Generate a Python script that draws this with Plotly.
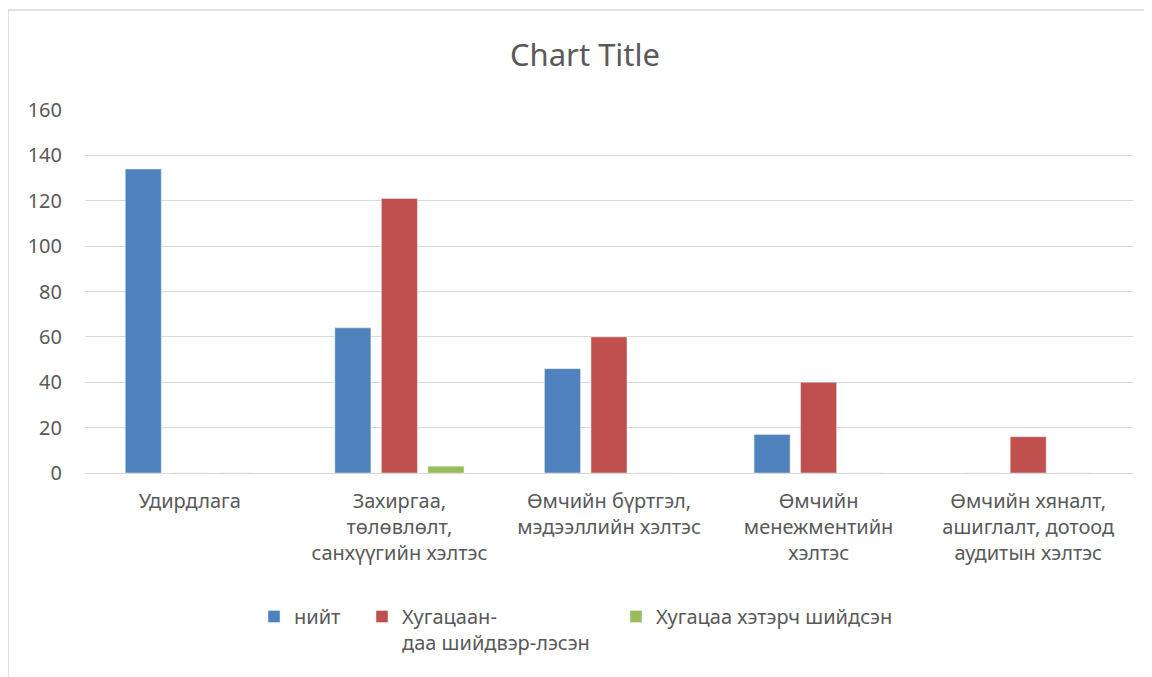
import plotly.graph_objects as go

categories = [
    "Удирдлага",
    "Захиргаа,<br>төлөвлөлт,<br>санхүүгийн хэлтэс",
    "Өмчийн бүртгэл,<br>мэдээллийн хэлтэс",
    "Өмчийн<br>менежментийн<br>хэлтэс",
    "Өмчийн хяналт,<br>ашиглалт, дотоод<br>аудитын хэлтэс",
]
niit = [134, 64, 46, 17, 0]
hugatsaandaa = [0, 121, 60, 40, 16]
hetersen = [0, 3, 0, 0, 0]
series_names = ["нийт", "Хугацаан-<br>даа шийдвэр-лэсэн", "Хугацаа хэтэрч шийдсэн"]
colors = ["#4F81BD", "#C0504D", "#9BBB59"]
y_ticks = [0, 20, 40, 60, 80, 100, 120, 140, 160]

FONT = "Noto Sans"
TXT = "#595959"
OFF = 8  # page body offset
W, H = 1152 - OFF, 677 - OFF

fig = go.Figure()
for i, (name, vals, col) in enumerate(zip(series_names, [niit, hugatsaandaa, hetersen], colors)):
    fig.add_trace(go.Bar(
        x=categories, y=vals, name=name, marker_color=col, showlegend=True,
        legend="legend" if i == 0 else f"legend{i+1}",
    ))

legend_common = dict(
    orientation="h", yanchor="top", xanchor="left",
    font=dict(family=FONT, size=20, color=TXT),
    bgcolor="rgba(0,0,0,0)", itemwidth=30, tracegroupgap=0,
    valign="top",
)
# plot area spans px 85..1133 (width 1048), 110..473 (height 363) in the viewport
def px2x(px):
    return (px - 85) / 1048.0

def px2y(py):
    return (473 - py) / 363.0

fig.update_layout(
    width=W, height=H, showlegend=True,
    paper_bgcolor="white", plot_bgcolor="white",
    margin=dict(l=85 - OFF, r=1152 - 1133, t=110 - OFF, b=677 - 473),
    barmode="group", bargap=0.334, bargroupgap=0.226,
    title=dict(text="Chart Title", x=(585 - OFF) / W, xanchor="center",
               y=1 - (55 - OFF) / H, yanchor="middle",
               font=dict(family=FONT, size=31, color=TXT)),
    font=dict(family=FONT, size=20, color=TXT),
    legend=dict(x=px2x(254), y=px2y(597), **legend_common),
    legend2=dict(x=px2x(362), y=px2y(597), **legend_common),
    legend3=dict(x=px2x(616), y=px2y(597), **legend_common),
    xaxis=dict(showgrid=False, showline=True, linecolor="#D9D9D9", linewidth=1,
               ticks="", tickfont=dict(family=FONT, size=20, color=TXT),
               ticklabelstandoff=10),
    yaxis=dict(range=[0, 160], tickvals=y_ticks, showgrid=True, gridcolor="#D9D9D9",
               gridwidth=1, zeroline=False, showline=False, ticks="",
               tickfont=dict(family=FONT, size=20, color=TXT), ticklabelstandoff=22),
    shapes=[
        dict(type="line", xref="paper", yref="paper",
             x0=px2x(8), x1=px2x(1400), y0=px2y(10), y1=px2y(10),
             line=dict(color="#D9D9D9", width=1.5), layer="below"),
        dict(type="line", xref="paper", yref="paper",
             x0=px2x(8), x1=px2x(8), y0=px2y(10), y1=px2y(900),
             line=dict(color="#D9D9D9", width=1.5), layer="below"),
    ],
)

fig.write_html("out.html")
